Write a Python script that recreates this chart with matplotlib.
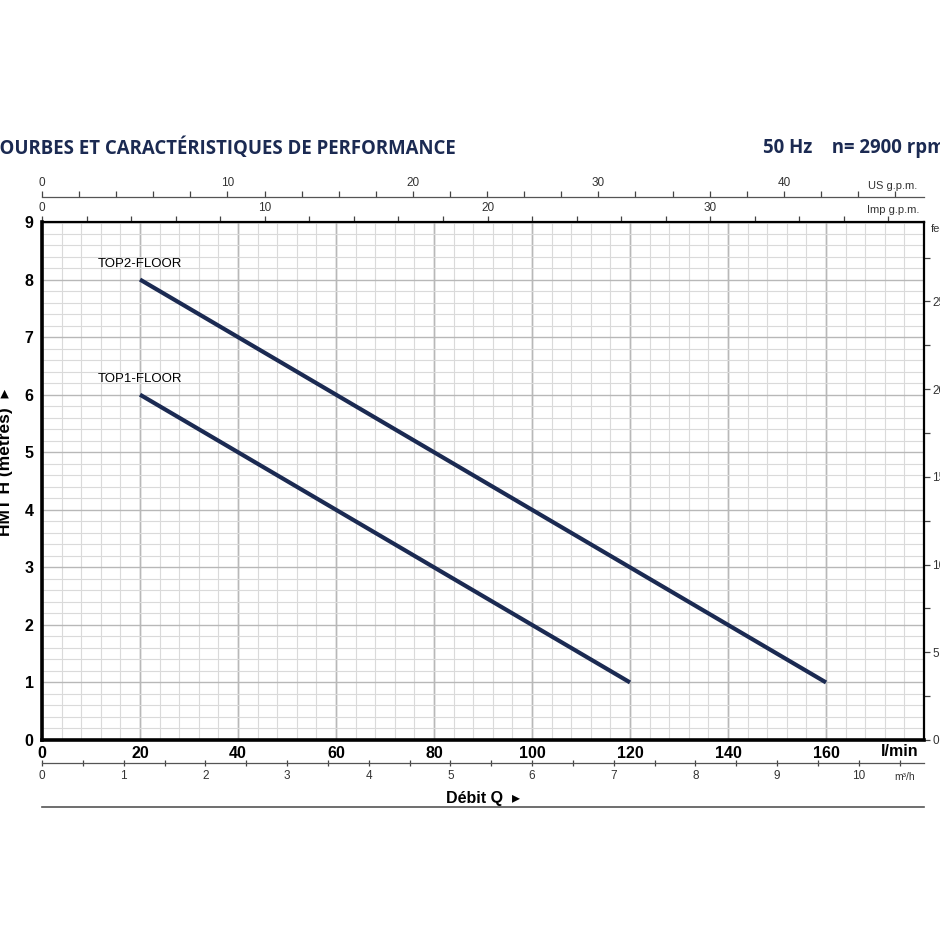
"""Performance curves for TOP1-FLOOR / TOP2-FLOOR pumps (50 Hz, 2900 rpm)."""

import matplotlib
matplotlib.use("Agg")
import matplotlib.pyplot as plt
from matplotlib.lines import Line2D
from matplotlib.ticker import MultipleLocator, NullFormatter
import numpy as np

# ---- data ----
flow_top1 = [20, 120]      # l/min
head_top1 = [6, 1]         # m
flow_top2 = [20, 160]
head_top2 = [8, 1]
curve_names = ["TOP1-FLOOR", "TOP2-FLOOR"]

lmin_ticks = [0, 20, 40, 60, 80, 100, 120, 140, 160]
head_ticks = [0, 1, 2, 3, 4, 5, 6, 7, 8, 9]

LMIN_PER_USGPM = 3.785
LMIN_PER_IMPGPM = 4.546
LMIN_PER_M3H = 1000.0 / 60.0
FT_PER_M = 3.2808

NAVY = "#1b2a52"
NARROW = ["Liberation Sans Narrow", "Liberation Sans", "DejaVu Sans"]
WIDE = ["Liberation Sans", "DejaVu Sans"]

plt.rcParams["font.family"] = NARROW

fig = plt.figure(figsize=(9.4, 9.4), dpi=100)
ax = fig.add_axes([42 / 940, 200 / 940, 882 / 940, 518 / 940])

ax.plot(flow_top2, head_top2, color=NAVY, lw=3.0, solid_capstyle="butt", zorder=5)
ax.plot(flow_top1, head_top1, color=NAVY, lw=3.0, solid_capstyle="butt", zorder=5)
ax.annotate(curve_names[1], (flow_top2[0], head_top2[0]), xytext=(0, 7),
            textcoords="offset points", ha="center", va="bottom", fontsize=9.5)
ax.annotate(curve_names[0], (flow_top1[0], head_top1[0]), xytext=(0, 7),
            textcoords="offset points", ha="center", va="bottom", fontsize=9.5)

ax.set_xlim(0, 180)
ax.set_ylim(0, 9)

# grid: fine every 4 l/min and 0.2 m, heavier every 20 l/min and 1 m
ax.set_xticks(lmin_ticks)
ax.set_yticks(head_ticks)
ax.xaxis.set_minor_locator(MultipleLocator(4))
ax.yaxis.set_minor_locator(MultipleLocator(0.2))
ax.grid(which="minor", color="#dadada", lw=0.8)
ax.grid(which="major", color="#b8b8b8", lw=1.0)
ax.set_axisbelow(True)
for xv in np.arange(20, 180, 20):
    ax.axvline(xv, color="#b8b8b8", lw=1.0, zorder=0.5)

ax.tick_params(which="both", length=0)
ax.tick_params(axis="x", pad=4, labelsize=11.5)
ax.tick_params(axis="y", pad=6, labelsize=11.5)
for lab in ax.get_xticklabels() + ax.get_yticklabels():
    lab.set_fontweight("bold")

for side in ["left", "bottom"]:
    ax.spines[side].set_linewidth(2.6)
for side in ["top", "right"]:
    ax.spines[side].set_linewidth(1.6)

# ---- secondary scales ----
us = ax.secondary_xaxis(1.048, functions=(lambda q: q / LMIN_PER_USGPM,
                                          lambda g: g * LMIN_PER_USGPM))
imp = ax.secondary_xaxis("top", functions=(lambda q: q / LMIN_PER_IMPGPM,
                                           lambda g: g * LMIN_PER_IMPGPM))
m3h = ax.secondary_xaxis(-0.044, functions=(lambda q: q / LMIN_PER_M3H,
                                            lambda v: v * LMIN_PER_M3H))
for sec, major, minor in [(us, 10, 2), (imp, 10, 2), (m3h, 1, 0.5)]:
    sec.xaxis.set_major_locator(MultipleLocator(major))
    sec.xaxis.set_minor_locator(MultipleLocator(minor))
    sec.xaxis.set_minor_formatter(NullFormatter())
    sec.tick_params(which="both", length=4, width=0.9, labelsize=8.5, pad=2,
                    color="#444444", labelcolor="#333333")
    sec.spines[:].set_linewidth(0.9)
us.spines[:].set_color("#555555")
m3h.spines[:].set_color("#555555")
m3h.tick_params(which="both", direction="inout", length=5, pad=3)

feet = ax.secondary_yaxis("right", functions=(lambda h: h * FT_PER_M,
                                              lambda f: f / FT_PER_M))
feet.yaxis.set_major_locator(MultipleLocator(5))
feet.yaxis.set_minor_locator(MultipleLocator(2.5))
feet.yaxis.set_minor_formatter(NullFormatter())
feet.tick_params(which="both", length=4, width=0.9, labelsize=8.5, pad=2,
                 color="#444444", labelcolor="#333333")
feet.spines[:].set_visible(False)

# ---- unit labels at axis ends ----
fig.text(893 / 940, 1 - 186 / 940, "US g.p.m.", ha="center", va="center",
         fontsize=8, color="#333333")
fig.text(893 / 940, 1 - 210 / 940, "Imp g.p.m.", ha="center", va="center",
         fontsize=8, color="#333333")
fig.text(931 / 940, 1 - 229 / 940, "feet", ha="left", va="center",
         fontsize=8, color="#333333")
fig.text(900 / 940, 1 - 751 / 940, "l/min", ha="center", va="center",
         fontsize=11.5, fontweight="bold")
fig.text(905 / 940, 1 - 777 / 940, "m³/h", ha="center", va="center",
         fontsize=7.5, color="#333333")

fig.text(483 / 940, 1 - 798 / 940, "Débit Q  ▸", ha="center", va="center",
         fontsize=11.5, fontweight="bold", family=WIDE)
fig.text(6 / 940, 1 - 462 / 940, "HMT H (metres)  ▸", ha="center", va="center",
         rotation=90, fontsize=12.5, fontweight="bold", family=WIDE)
fig.add_artist(Line2D([42 / 940, 924 / 940], [1 - 807 / 940, 1 - 807 / 940],
                      transform=fig.transFigure, color="#555555", lw=1.2))

# ---- headings ----
fig.text(456 / 940, 1 - 148 / 940, "COURBES ET CARACTÉRISTIQUES DE PERFORMANCE",
         ha="right", va="center", fontsize=13.4, fontweight="bold",
         color=NAVY, family=["Open Sans", "DejaVu Sans"])
fig.text(763 / 940, 1 - 148 / 940, "50 Hz    n= 2900 rpm",
         ha="left", va="center", fontsize=13.4, fontweight="bold",
         color=NAVY, family=["Open Sans", "DejaVu Sans"])

fig.savefig("out.png", dpi=100)
plt.close(fig)
